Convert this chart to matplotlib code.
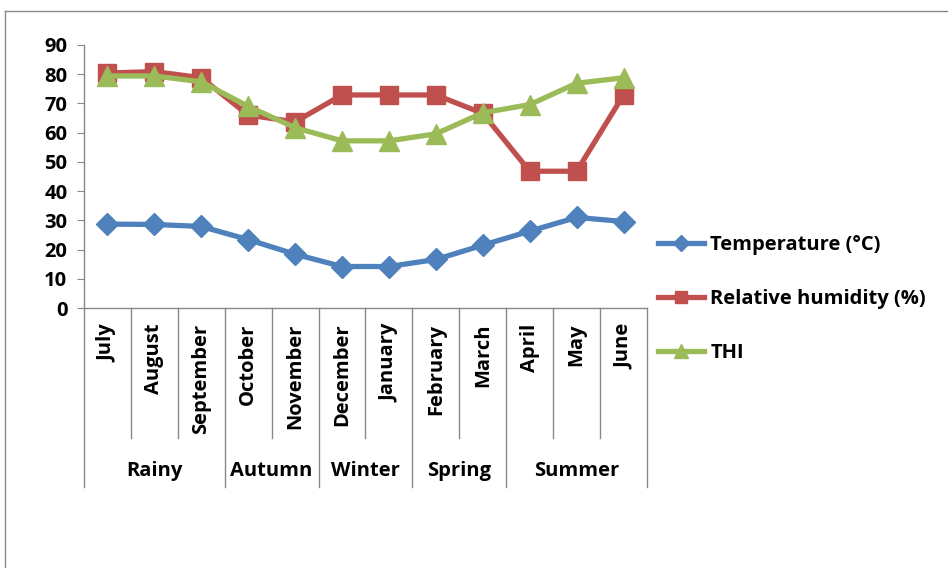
import matplotlib
matplotlib.use("Agg")
import matplotlib.pyplot as plt
from matplotlib.lines import Line2D
from matplotlib.transforms import blended_transform_factory

months = ["July", "August", "September", "October", "November", "December",
          "January", "February", "March", "April", "May", "June"]
seasons = ["Rainy", "Autumn", "Winter", "Spring", "Summer"]
season_sizes = [3, 2, 2, 2, 3]

temperature = [28.7, 28.6, 27.9, 23.4, 18.4, 14.2, 14.2, 16.6, 21.5, 26.3, 31.0, 29.6]
humidity = [80.4, 80.9, 78.8, 66.0, 63.7, 72.9, 72.9, 72.9, 66.6, 46.8, 46.8, 72.9]
thi = [79.4, 79.4, 77.4, 69.0, 61.7, 57.2, 57.2, 59.6, 66.8, 69.6, 76.9, 78.8]

plt.rcParams["font.family"] = ["Open Sans", "DejaVu Sans"]
plt.rcParams["font.weight"] = "bold"
FS = 14.5

fig = plt.figure(figsize=(9.48, 5.68), dpi=100)
ax = fig.add_axes([84 / 948, 1 - 308 / 568, (647 - 84) / 948, (308 - 45) / 568])

x = list(range(len(months)))
ax.plot(x, temperature, color="#4F81BD", lw=3.8, marker="D", ms=11, label="Temperature (°C)")
ax.plot(x, humidity, color="#C0504D", lw=3.8, marker="s", ms=13, label="Relative humidity (%)")
ax.plot(x, thi, color="#9BBB59", lw=3.8, marker="^", ms=14, label="THI")

ax.set_xlim(-0.5, len(months) - 0.5)
ax.set_ylim(0, 90)
ax.set_yticks(range(0, 91, 10))
ax.tick_params(axis="y", labelsize=FS, length=5, color="#888888", pad=7)
ax.set_xticks([])
for s in ["top", "right"]:
    ax.spines[s].set_visible(False)
for s in ["left", "bottom"]:
    ax.spines[s].set_color("#888888")
    ax.spines[s].set_linewidth(1.0)
for lbl in ax.get_yticklabels():
    lbl.set_fontweight("bold")

# two-level category axis
trans = blended_transform_factory(ax.transData, ax.transAxes)
for i, m in enumerate(months):
    ax.text(i, -0.06, m, rotation=90, ha="center", va="top", fontsize=FS,
            fontweight="bold", transform=trans)

edges = [0]
for n in season_sizes:
    edges.append(edges[-1] + n)
for i in range(len(months) + 1):
    bottom = -0.68 if i in edges else -0.495
    ax.plot([i - 0.5, i - 0.5], [0, bottom], color="#888888", lw=1.0,
            transform=trans, clip_on=False)
for k, name in enumerate(seasons):
    mid = (edges[k] + edges[k + 1]) / 2 - 0.5
    ax.text(mid, -0.62, name, ha="center", va="center", fontsize=FS,
            fontweight="bold", transform=trans)

ax.legend(loc="upper left", bbox_to_anchor=(640 / 948, 1 - 217 / 568),
          bbox_transform=fig.transFigure, frameon=False,
          handlelength=2.3, handletextpad=0.3, labelspacing=1.68, markerscale=0.7,
          prop={"weight": "bold", "size": FS})

# outer chart frame
fig.add_artist(Line2D([5 / 948, 5 / 948], [0, 1 - 11 / 568], color="#888888", lw=1.0))
fig.add_artist(Line2D([5 / 948, 1], [1 - 11 / 568, 1 - 11 / 568], color="#888888", lw=1.0))

fig.savefig("out.png", dpi=100)
